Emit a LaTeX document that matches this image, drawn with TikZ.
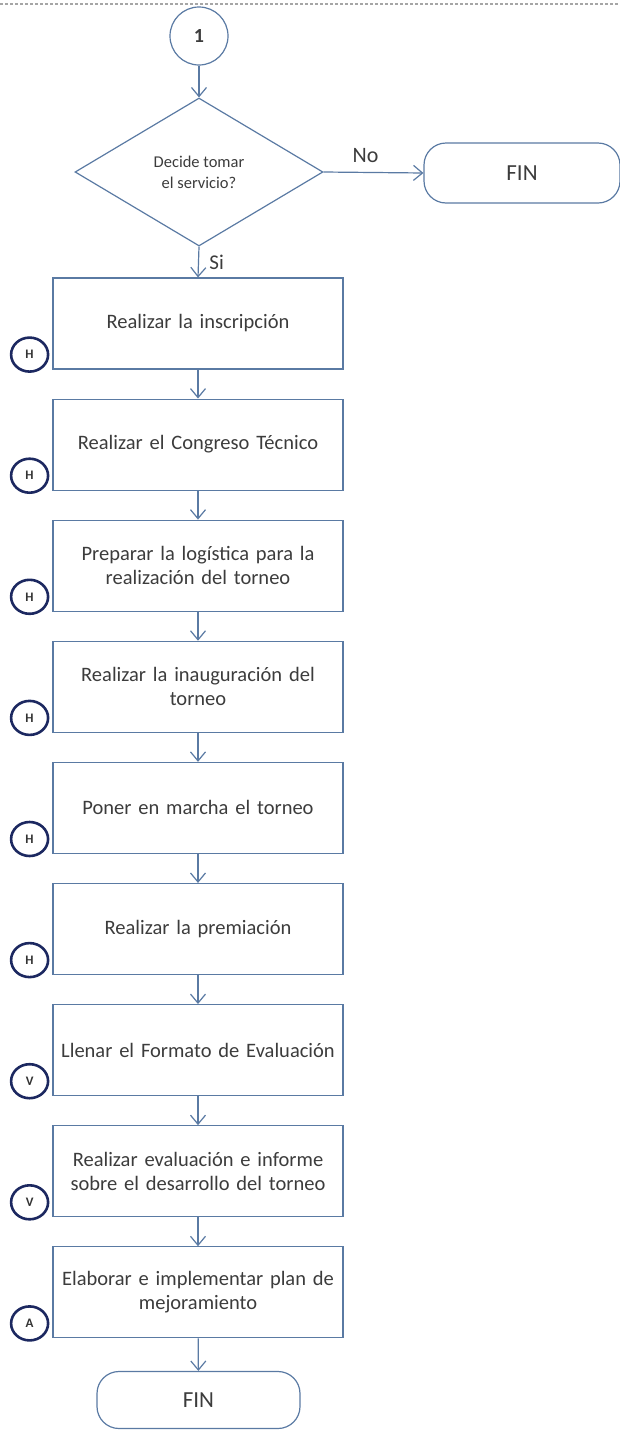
\documentclass[tikz,border=0pt]{standalone}
\usepackage{fontspec}
\setmainfont{Carlito}
\usetikzlibrary{shapes.geometric,arrows.meta}
\definecolor{flowline}{HTML}{5A7AA3}
\definecolor{flowtext}{HTML}{3C3C3C}
\definecolor{phase}{HTML}{1C2860}
\tikzset{
  every node/.style={text=flowtext},
  stepbox/.style={draw=flowline, line width=1.2pt, minimum width=290pt, minimum height=91pt,
    align=center, font=\fontsize{20.5}{24}\selectfont, text width=280pt, inner sep=0pt},
  terminal/.style={draw=flowline, line width=1.2pt, rounded corners=22pt, align=center,
    font=\fontsize{23}{26}\selectfont},
  phasemark/.style={draw=phase, ellipse, line width=2.6pt, minimum width=37pt, minimum height=34pt,
    inner sep=0pt, font=\bfseries\fontsize{13}{14}\selectfont, text=black!80},
  flow/.style={draw=flowline, line width=1.2pt, -{Straight Barb[length=9pt,width=15pt,line width=1.2pt]}}
}
\begin{document}
\begin{tikzpicture}[x=1pt,y=-1pt]
  \useasboundingbox (0,0) rectangle (619,1430);
  % page separator at the top
  \draw[gray!70, line width=1.3pt, dash pattern=on 3pt off 2pt] (0,4) -- (619,4);

  % connector and decision
  \node[draw=flowline, line width=1.2pt, circle, minimum size=58pt, inner sep=0pt,
        font=\bfseries\fontsize{20}{22}\selectfont] (c1) at (199,36) {1};
  \node[draw=flowline, line width=1.2pt, diamond, minimum width=248pt, minimum height=148pt,
        inner sep=0pt, align=center, font=\fontsize{16.5}{21}\selectfont] (dec) at (199,172)
        {Decide tomar\\el servicio?};
  \node[terminal, minimum width=196pt, minimum height=60pt] (finR) at (522,173) {FIN};

  % process steps
  \foreach \n/\t [count=\i from 0] in {
      s1/{Realizar la inscripción},
      s2/{Realizar el Congreso Técnico},
      s3/{Preparar la logística para la\\realización del torneo},
      s4/{Realizar la inauguración del\\torneo},
      s5/{Poner en marcha el torneo},
      s6/{Realizar la premiación},
      s7/{Llenar el Formato de Evaluación},
      s8/{Realizar evaluación e informe\\sobre el desarrollo del torneo},
      s9/{Elaborar e implementar plan de\\mejoramiento}} {
    \node[stepbox] (\n) at (198,{323.5+121.1*\i}) {\t};
  }

  \node[terminal, minimum width=203pt, minimum height=57pt] (finB) at (198.5,1400) {FIN};

  % PHVA phase markers
  \foreach \n/\l in {s1/H,s2/H,s3/H,s4/H,s5/H,s6/H,s7/V,s8/V,s9/A} {
    \node[phasemark, anchor=east] (m\n) at ([xshift=-3pt,yshift=15pt]\n.south west) {\l};
  }

  % connectors
  \draw[flow] (c1) -- (dec.north);
  \draw[flow] (dec.east) -- node[above=6pt, font=\fontsize{22}{24}\selectfont, pos=0.42] {No} (finR.west);
  \draw[flow] (dec.south) -- node[right=7pt, font=\fontsize{21}{24}\selectfont, pos=0.5] {Si} (s1.north);
  \draw[flow] (s1) -- (s2);
  \draw[flow] (s2) -- (s3);
  \draw[flow] (s3) -- (s4);
  \draw[flow] (s4) -- (s5);
  \draw[flow] (s5) -- (s6);
  \draw[flow] (s6) -- (s7);
  \draw[flow] (s7) -- (s8);
  \draw[flow] (s8) -- (s9);
  \draw[flow] (s9) -- (finB);
\end{tikzpicture}
\end{document}
